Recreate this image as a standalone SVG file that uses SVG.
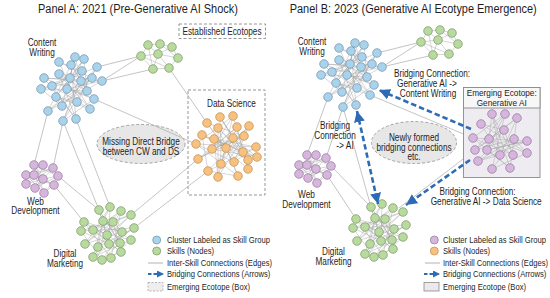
<svg xmlns="http://www.w3.org/2000/svg" xmlns:xlink="http://www.w3.org/1999/xlink" width="550" height="298" viewBox="0 0 550 298">
<style>
text{font-family:"Liberation Sans",Arial,sans-serif;fill:#1e1e1e;font-size:10px}
.ttl{font-size:12.5px}
.lg{font-size:9.3px}
.m{text-anchor:middle}
.e{text-anchor:end}
.ie{fill:none;stroke:#a3a3a3;stroke-width:0.45}
.xe{fill:none;stroke:#ababab;stroke-width:0.7}
.cb circle{fill:#a9d2eb;stroke:#6f91aa;stroke-width:0.7}
.cg circle{fill:#b9da9f;stroke:#74955f;stroke-width:0.7}
.co circle{fill:#f7c17f;stroke:#c08b4a;stroke-width:0.7}
.cp circle{fill:#d7b6dd;stroke:#917599;stroke-width:0.7}
.br{fill:none;stroke:#2d6cb5;stroke-width:2.6;stroke-dasharray:5.5 3}
.dbox{fill:none;stroke:#8a8a8a;stroke-width:0.9;stroke-dasharray:3 2}
.ell{fill:#e7e7e7;stroke:#9a9a9a;stroke-width:0.9;stroke-dasharray:3 2}
</style>
<defs>
<marker id="ah" markerUnits="userSpaceOnUse" markerWidth="12" markerHeight="11" refX="11" refY="5.5" orient="auto-start-reverse"><path d="M0,0 L11,5.5 L0,11 z" fill="#2d6cb5"/></marker>
<marker id="ahs" markerUnits="userSpaceOnUse" markerWidth="8" markerHeight="7" refX="7" refY="3.5" orient="auto"><path d="M0,0 L7,3.5 L0,7 z" fill="#2d6cb5"/></marker>
<g id="cw-s" class="cb">
<path class="ie" d="M75 57L81 81L48 111L92 78L59 62L77 102L97 67L62 106L41 89L87 91L71 65L76 119L44 78L102 81L59 74L90 109L52 86L82 71L63 121L94 99L67 89L84 59L56 97L70 78L75 57M59 62L82 71L41 89L92 78L62 106L75 57L67 89L102 81L48 111L71 65L94 99L44 78L81 81L63 121L97 67L52 86L76 119L59 74L87 91L84 59L70 78L90 109L56 97L77 102"/>
<circle cx="75" cy="57" r="4.3"/><circle cx="84" cy="59" r="4.3"/><circle cx="59" cy="62" r="4.3"/><circle cx="71" cy="65" r="4.3"/><circle cx="97" cy="67" r="4.3"/><circle cx="82" cy="71" r="4.3"/><circle cx="59" cy="74" r="4.3"/><circle cx="70" cy="78" r="4.3"/><circle cx="81" cy="81" r="4.3"/><circle cx="92" cy="78" r="4.3"/><circle cx="102" cy="81" r="4.3"/><circle cx="44" cy="78" r="4.3"/><circle cx="41" cy="89" r="4.3"/><circle cx="52" cy="86" r="4.3"/><circle cx="67" cy="89" r="4.3"/><circle cx="87" cy="91" r="4.3"/><circle cx="56" cy="97" r="4.3"/><circle cx="77" cy="102" r="4.3"/><circle cx="94" cy="99" r="4.3"/><circle cx="62" cy="106" r="4.3"/><circle cx="48" cy="111" r="4.3"/><circle cx="90" cy="109" r="4.3"/><circle cx="63" cy="121" r="4.3"/><circle cx="76" cy="119" r="4.3"/>
</g>
<g id="tg-s" class="cg">
<path class="ie" d="M148 45L160 44L172 47L178 58L169 68L153 69L141 56L148 45L158 54L160 44M172 47L158 54L178 58M141 56L158 54L153 69M158 54L169 68M148 45L153 69M160 44L178 58M141 56L169 68"/>
<circle cx="148" cy="45" r="4.3"/><circle cx="160" cy="44" r="4.3"/><circle cx="172" cy="47" r="4.3"/><circle cx="141" cy="56" r="4.3"/><circle cx="158" cy="54" r="4.3"/><circle cx="178" cy="58" r="4.3"/><circle cx="153" cy="69" r="4.3"/><circle cx="169" cy="68" r="4.3"/>
</g>
<g id="wd-s" class="cp">
<path class="ie" d="M34 165L43 179L26 184L53 168L34 175L54 185L26 175L43 165L35 188L58 176L44 193L26 175M43 165L34 175L44 193L34 165L58 176L43 179L35 188L53 168L26 175M43 179L54 185L44 193M26 184L34 175L43 179"/>
<circle cx="34" cy="165" r="4.3"/><circle cx="43" cy="165" r="4.3"/><circle cx="53" cy="168" r="4.3"/><circle cx="26" cy="175" r="4.3"/><circle cx="34" cy="175" r="4.3"/><circle cx="43" cy="179" r="4.3"/><circle cx="58" cy="176" r="4.3"/><circle cx="26" cy="184" r="4.3"/><circle cx="35" cy="188" r="4.3"/><circle cx="54" cy="185" r="4.3"/><circle cx="44" cy="193" r="4.3"/>
</g>
<g id="dm-s" class="cg">
<path class="ie" d="M99 210L107 235L131 215L81 231L109 244L110 207L85 244L122 232L84 222L111 258L121 211L93 230L131 240L103 221L93 257L134 228L98 247L113 222L121 252L102 260L120 243L99 210M110 207L103 221L98 247L131 215L93 230L121 252L84 222L120 243L99 210L109 244L134 228L81 231L102 260L122 232L113 222L85 244L121 211L107 235L93 257L131 240L111 258"/>
<circle cx="99" cy="210" r="4.3"/><circle cx="110" cy="207" r="4.3"/><circle cx="121" cy="211" r="4.3"/><circle cx="131" cy="215" r="4.3"/><circle cx="84" cy="222" r="4.3"/><circle cx="103" cy="221" r="4.3"/><circle cx="113" cy="222" r="4.3"/><circle cx="81" cy="231" r="4.3"/><circle cx="93" cy="230" r="4.3"/><circle cx="107" cy="235" r="4.3"/><circle cx="122" cy="232" r="4.3"/><circle cx="134" cy="228" r="4.3"/><circle cx="85" cy="244" r="4.3"/><circle cx="98" cy="247" r="4.3"/><circle cx="109" cy="244" r="4.3"/><circle cx="120" cy="243" r="4.3"/><circle cx="131" cy="240" r="4.3"/><circle cx="93" cy="257" r="4.3"/><circle cx="102" cy="260" r="4.3"/><circle cx="111" cy="258" r="4.3"/><circle cx="121" cy="252" r="4.3"/>
</g>
</defs>
<rect width="550" height="298" fill="#ffffff"/>

<!-- Panel A -->
<g id="panel-a-title"><text class="ttl m" x="138" y="13" textLength="200" lengthAdjust="spacingAndGlyphs">Panel A: 2021 (Pre-Generative AI Shock)</text></g>
<g id="a-established-ecotopes"><rect class="dbox" x="179" y="24" width="86.5" height="14.5" fill="#fff"/><text class="m" x="222" y="35" textLength="79" lengthAdjust="spacingAndGlyphs">Established Ecotopes</text></g>
<g id="a-data-science-box"><rect class="dbox" x="188" y="90" width="77" height="105"/></g>
<g id="a-missing-bridge"><ellipse class="ell" cx="141" cy="144" rx="44" ry="19.5"/>
<text class="m" x="141" y="144.5" textLength="77.5" lengthAdjust="spacingAndGlyphs">Missing Direct Bridge</text>
<text class="m" x="141" y="155" textLength="76.6" lengthAdjust="spacingAndGlyphs">between CW and DS</text></g>

<g id="connectors-a">
<path class="xe" d="M97 67L141 56M102 81L141 56M102 81L153 69M169 68L207 123M94 99L196 144M48 111L34 165M63 121L53 168M63 121L99 210M76 119L110 207M58 176L99 210M54 185L84 222M131 215L198 159M134 228L208 171"/>
</g>
<g id="connectors-b">
<path class="xe" d="M377 53L421 42M382 67L421 42M382 67L433 55M370 95L473 138M328 97L307 155M343 107L326 158M343 107L371 207M331 166L371 207M327 175L356 219M399 208L475 150"/>
</g>

<g id="a-content-writing"><use xlink:href="#cw-s"/>
<text class="m" x="42" y="46" textLength="28.7" lengthAdjust="spacingAndGlyphs">Content</text>
<text class="m" x="42" y="56" textLength="25.5" lengthAdjust="spacingAndGlyphs">Writing</text></g>
<g id="a-green-cluster"><use xlink:href="#tg-s"/></g>
<g id="a-data-science" class="co">
<text class="m" x="231.5" y="106.7" textLength="48.8" lengthAdjust="spacingAndGlyphs">Data Science</text>
<path class="ie" d="M220 117L233 138L198 159L244 136L207 123L234 162L249 126L208 171L202 135L243 152L218 128L238 176L196 144L256 147L214 139L218 177L233 116L212 149L257 157L226 148L221 164L237 127L248 169L248 160L220 117M207 123L226 148L249 126L221 164L220 117L243 152L202 135L248 160L218 128L218 177L244 136L212 149L237 127L198 159L233 138L257 157L214 139L248 169L233 116L196 144L234 162L256 147L208 171L238 176L226 148"/>
<circle cx="220" cy="117" r="4.3"/><circle cx="233" cy="116" r="4.3"/><circle cx="207" cy="123" r="4.3"/><circle cx="218" cy="128" r="4.3"/><circle cx="237" cy="127" r="4.3"/><circle cx="249" cy="126" r="4.3"/><circle cx="202" cy="135" r="4.3"/><circle cx="214" cy="139" r="4.3"/><circle cx="233" cy="138" r="4.3"/><circle cx="244" cy="136" r="4.3"/><circle cx="196" cy="144" r="4.3"/><circle cx="226" cy="148" r="4.3"/><circle cx="212" cy="149" r="4.3"/><circle cx="243" cy="152" r="4.3"/><circle cx="256" cy="147" r="4.3"/><circle cx="198" cy="159" r="4.3"/><circle cx="221" cy="164" r="4.3"/><circle cx="234" cy="162" r="4.3"/><circle cx="248" cy="160" r="4.3"/><circle cx="257" cy="157" r="4.3"/><circle cx="208" cy="171" r="4.3"/><circle cx="218" cy="177" r="4.3"/><circle cx="238" cy="176" r="4.3"/><circle cx="248" cy="169" r="4.3"/>
</g>
<g id="a-web-development"><use xlink:href="#wd-s"/>
<text class="m" x="35.5" y="204.5" textLength="16.9" lengthAdjust="spacingAndGlyphs">Web</text>
<text class="m" x="35.5" y="214" textLength="48.3" lengthAdjust="spacingAndGlyphs">Development</text></g>
<g id="a-digital-marketing"><use xlink:href="#dm-s"/>
<text class="m" x="65" y="257.3" textLength="22.8" lengthAdjust="spacingAndGlyphs">Digital</text>
<text class="m" x="65" y="267.3" textLength="36" lengthAdjust="spacingAndGlyphs">Marketing</text></g>

<g id="a-legend">
<circle cx="156.7" cy="240" r="4" fill="#a9d2eb" stroke="#6f91aa" stroke-width="0.7"/>
<text class="lg" x="167" y="243.3" textLength="103" lengthAdjust="spacingAndGlyphs">Cluster Labeled as Skill Group</text>
<circle cx="156.7" cy="251" r="4" fill="#b9da9f" stroke="#74955f" stroke-width="0.7"/>
<text class="lg" x="167" y="254.2" textLength="47" lengthAdjust="spacingAndGlyphs">Skills (Nodes)</text>
<path d="M148 263H163" stroke="#a0a0a0" stroke-width="0.8"/>
<text class="lg" x="167" y="266" textLength="105" lengthAdjust="spacingAndGlyphs">Inter-Skill Connections (Edges)</text>
<path d="M148 274H164" fill="none" stroke="#2d6cb5" stroke-width="2" stroke-dasharray="3.5 2" marker-end="url(#ahs)"/>
<text class="lg" x="167" y="277.3" textLength="103.4" lengthAdjust="spacingAndGlyphs">Bridging Connections (Arrows)</text>
<rect x="148" y="282.5" width="15" height="8.5" fill="#eeeeee" stroke="#999" stroke-width="0.7" stroke-dasharray="2 1.5"/>
<text class="lg" x="167" y="290" textLength="83" lengthAdjust="spacingAndGlyphs">Emerging Ecotope (Box)</text>
</g>

<!-- Panel B -->
<g id="panel-b-title"><text class="ttl e" x="536.7" y="13" textLength="247" lengthAdjust="spacingAndGlyphs">Panel B: 2023 (Generative AI Ecotype Emergence)</text></g>
<g id="b-newly-formed"><ellipse class="ell" cx="414" cy="142.5" rx="42.5" ry="21"/>
<text class="m" x="414" y="140.5" textLength="50.1" lengthAdjust="spacingAndGlyphs">Newly formed</text>
<text class="m" x="414" y="150.5" textLength="75.2" lengthAdjust="spacingAndGlyphs">bridging connections</text>
<text class="m" x="414" y="160" textLength="13.2" lengthAdjust="spacingAndGlyphs">etc.</text></g>

<g id="b-content-writing"><use xlink:href="#cw-s" transform="translate(280,-14)"/>
<text class="m" x="312" y="45" textLength="28.7" lengthAdjust="spacingAndGlyphs">Content</text>
<text class="m" x="312" y="55" textLength="25.5" lengthAdjust="spacingAndGlyphs">Writing</text></g>
<g id="b-green-cluster"><use xlink:href="#tg-s" transform="translate(280,-14)"/></g>
<g id="b-web-development"><use xlink:href="#wd-s" transform="translate(273,-10)"/>
<text class="m" x="306.5" y="198" textLength="16.9" lengthAdjust="spacingAndGlyphs">Web</text>
<text class="m" x="306.5" y="207.5" textLength="48.3" lengthAdjust="spacingAndGlyphs">Development</text></g>
<g id="b-digital-marketing"><use xlink:href="#dm-s" transform="translate(272,-3)"/>
<text class="m" x="333.5" y="255" textLength="22.8" lengthAdjust="spacingAndGlyphs">Digital</text>
<text class="m" x="333.5" y="264.5" textLength="36" lengthAdjust="spacingAndGlyphs">Marketing</text></g>
<g id="b-generative-ai">
<rect x="463.5" y="87.5" width="76.5" height="90" fill="#eeecf1" stroke="#8a8a8a" stroke-width="0.9"/>
<rect x="463.5" y="87.5" width="76.5" height="20.5" fill="#f7f7f7" stroke="#8a8a8a" stroke-width="0.9"/>
<text class="m" x="501.7" y="96" style="font-size:9px" textLength="70" lengthAdjust="spacingAndGlyphs">Emerging Ecotope:</text>
<text class="m" x="501.7" y="105.5" style="font-size:9px" textLength="50.1" lengthAdjust="spacingAndGlyphs">Generative AI</text>
<g class="cp">
<path class="ie" d="M492 114L489 139L527 153L481 124L500 155L517 118L475 150L514 139L492 169L505 114L473 138L513 155L504 130L478 161L527 141L487 150L510 168L492 114M481 124L504 130L475 150L505 114L487 150L527 141L473 138L510 168L517 118L489 139L513 155L492 114L500 155L478 161L514 139L527 153L492 169"/>
<circle cx="492" cy="114" r="4.3"/><circle cx="505" cy="114" r="4.3"/><circle cx="517" cy="118" r="4.3"/><circle cx="481" cy="124" r="4.3"/><circle cx="504" cy="130" r="4.3"/><circle cx="473" cy="138" r="4.3"/><circle cx="489" cy="139" r="4.3"/><circle cx="514" cy="139" r="4.3"/><circle cx="527" cy="141" r="4.3"/><circle cx="475" cy="150" r="4.3"/><circle cx="487" cy="150" r="4.3"/><circle cx="500" cy="155" r="4.3"/><circle cx="513" cy="155" r="4.3"/><circle cx="527" cy="153" r="4.3"/><circle cx="478" cy="161" r="4.3"/><circle cx="492" cy="169" r="4.3"/><circle cx="510" cy="168" r="4.3"/>
</g></g>

<g id="bridging-arrows">
<path class="br" d="M471 129L379 90" marker-end="url(#ah)"/>
<path class="br" d="M357 111L378 204" marker-start="url(#ah)" marker-end="url(#ah)"/>
<path class="br" d="M470 160L406 205" marker-end="url(#ah)"/>
</g>
<g id="b-bridge-labels">
<text class="m" x="432" y="76.5" textLength="76.1" lengthAdjust="spacingAndGlyphs">Bridging Connection:</text>
<text class="m" x="427" y="86.5" textLength="59.9" lengthAdjust="spacingAndGlyphs">Generative AI -&gt;</text>
<text class="m" x="428" y="96.5" textLength="56.5" lengthAdjust="spacingAndGlyphs">Content Writing</text>
<text class="m" x="335" y="129" textLength="30.1" lengthAdjust="spacingAndGlyphs">Bridging</text>
<text class="m" x="335" y="138.7" textLength="41.5" lengthAdjust="spacingAndGlyphs">Connection</text>
<text class="m" x="345" y="148.5" textLength="17.5" lengthAdjust="spacingAndGlyphs">-&gt; AI</text>
<text class="m" x="477.5" y="195" textLength="76.1" lengthAdjust="spacingAndGlyphs">Bridging Connection:</text>
<text class="e" x="541.7" y="205" textLength="111" lengthAdjust="spacingAndGlyphs">Generative AI -&gt; Data Science</text>
</g>

<g id="b-legend">
<circle cx="434.3" cy="240" r="4" fill="#d7b6dd" stroke="#917599" stroke-width="0.7"/>
<text class="lg e" x="546" y="243.3" textLength="103" lengthAdjust="spacingAndGlyphs">Cluster Labeled as Skill Group</text>
<circle cx="434.3" cy="251" r="4" fill="#f7c17f" stroke="#c08b4a" stroke-width="0.7"/>
<text class="lg" x="443" y="254.2" textLength="47" lengthAdjust="spacingAndGlyphs">Skills (Nodes)</text>
<path d="M425 263H440" stroke="#a0a0a0" stroke-width="0.8"/>
<text class="lg e" x="548" y="266" textLength="105" lengthAdjust="spacingAndGlyphs">Inter-Skill Connections (Edges)</text>
<path d="M424 274H440" fill="none" stroke="#2d6cb5" stroke-width="2" stroke-dasharray="3.5 2" marker-end="url(#ahs)"/>
<text class="lg e" x="546.4" y="277.3" textLength="103.4" lengthAdjust="spacingAndGlyphs">Bridging Connections (Arrows)</text>
<rect x="424" y="282.5" width="15" height="8.5" fill="#ebe8ee" stroke="#8a8a8a" stroke-width="0.8"/>
<text class="lg" x="443" y="290" textLength="83" lengthAdjust="spacingAndGlyphs">Emerging Ecotope (Box)</text>
</g>
</svg>
